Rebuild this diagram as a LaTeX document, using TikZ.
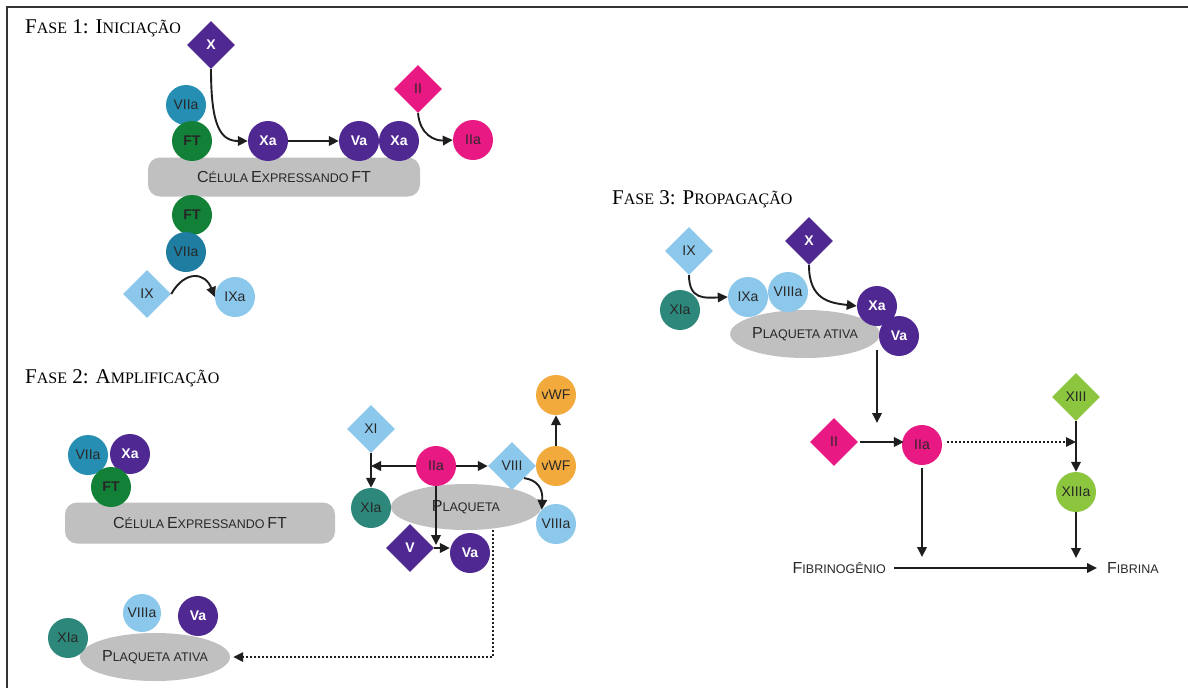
\documentclass[tikz,border=0pt]{standalone}
\usepackage{fontspec}
\setsansfont{Liberation Sans}
\newfontfamily\serifT{Liberation Serif}
\usetikzlibrary{shapes.geometric,arrows.meta}
\definecolor{cpurple}{RGB}{80,40,145}
\definecolor{cpink}{RGB}{232,25,130}
\definecolor{cteal}{RGB}{38,142,178}
\definecolor{ctealdk}{RGB}{30,125,160}
\definecolor{cgreen}{RGB}{18,128,55}
\definecolor{clblue}{RGB}{140,200,235}
\definecolor{cxia}{RGB}{45,135,122}
\definecolor{corange}{RGB}{242,170,60}
\definecolor{clgreen}{RGB}{140,198,63}
\definecolor{cgray}{RGB}{192,192,192}
\definecolor{cline}{RGB}{30,30,30}
\definecolor{ctxt}{RGB}{40,40,40}
\newcommand\tsc[2]{#1{\fontsize{16}{16}\selectfont #2}}
\newcommand\ssc[2]{{\fontsize{16}{16}\selectfont #1}{\fontsize{12.5}{12.5}\selectfont #2}}
\tikzset{
  fnt/.style={font=\sffamily\fontsize{14}{14}\selectfont},
  fntb/.style={font=\sffamily\bfseries\fontsize{14}{14}\selectfont},
  circ/.style={circle, minimum size=40pt, inner sep=0pt, text=ctxt, fnt},
  dia/.style={diamond, minimum width=48pt, minimum height=48pt, inner sep=0pt, shape aspect=1, text=ctxt, fnt},
  wtxt/.style={text=white, fntb},
  ftxt/.style={text=black!85, fntb},
  cell/.style={rounded corners=12pt, fill=cgray, inner sep=0pt, text=ctxt, font=\sffamily},
  plaq/.style={ellipse, fill=cgray, inner sep=0pt, text=ctxt, font=\sffamily},
  title/.style={anchor=base west, inner sep=0pt, font=\serifT\fontsize{21}{21}\selectfont},
  lbl/.style={inner sep=0pt, text=ctxt, font=\sffamily},
  arr/.style={draw=cline, line width=1.9pt, -{Triangle[length=10pt,width=9.5pt]}},
  dots/.style={arr, line width=1.6pt, dash pattern=on 2.2pt off 1.8pt},
}
\begin{document}
\begin{tikzpicture}[x=1pt,y=-1pt]
\useasboundingbox (0,0) rectangle (1188,688);
\fill[white] (0,0) rectangle (1188,688);
\draw[line width=1.5pt, black!80] (1188,7) -- (7,7) -- (7,688);

% ---------------- Phase 1 ----------------
\node[title] (t1) at (25,33) {\tsc{F}{ASE} 1: \tsc{I}{NICIAÇÃO}};
\node[cell, minimum width=272pt, minimum height=39pt] (cell1) at (284,177) {\ssc{C}{ÉLULA} \ssc{E}{XPRESSANDO} \ssc{FT}{}};
\node[dia, fill=cpurple, wtxt] (p1x) at (211,45) {X};
\node[circ, fill=cteal] (p1viia) at (186,105) {VIIa};
\node[circ, fill=cgreen, ftxt] (p1ft) at (192,141) {FT};
\node[circ, fill=cpurple, wtxt] (p1xa) at (268,141) {Xa};
\node[circ, fill=cpurple, wtxt] (p1va) at (359,141) {Va};
\node[circ, fill=cpurple, wtxt] (p1xa2) at (399,141) {Xa};
\node[dia, fill=cpink] (p1ii) at (418,89) {II};
\node[circ, fill=cpink] (p1iia) at (473,140) {IIa};
\node[circ, fill=cgreen, ftxt] (p1ft2) at (192,215) {FT};
\node[circ, fill=ctealdk] (p1viia2) at (186,252) {VIIa};
\node[dia, fill=clblue] (p1ix) at (147,294) {IX};
\node[circ, fill=clblue] (p1ixa) at (235,297) {IXa};

\draw[arr] (p1x.south) .. controls (211,125) and (220,141) .. (p1xa.west);
\draw[arr] (p1xa.east) -- (p1va.west);
\draw[arr] (p1ii.south) .. controls (420,135) and (435,141) .. (p1iia.west);
\draw[arr] (p1ix.east) .. controls (185,270) and (205,272) .. (p1ixa.west);

% ---------------- Phase 2 ----------------
\node[title] (t2) at (25,383) {\tsc{F}{ASE} 2: \tsc{A}{MPLIFICAÇÃO}};
\node[cell, minimum width=270pt, minimum height=41pt] (cell2) at (200,523) {\ssc{C}{ÉLULA} \ssc{E}{XPRESSANDO} \ssc{FT}{}};
\node[circ, fill=cteal] (p2viia) at (88,455) {VIIa};
\node[circ, fill=cpurple, wtxt] (p2xa) at (130,454) {Xa};
\node[circ, fill=cgreen, ftxt] (p2ft) at (111,487) {FT};

\node[plaq, minimum width=150pt, minimum height=46pt] (plaq) at (466,507) {\ssc{P}{LAQUETA}};
\node[dia, fill=clblue] (p2xi) at (371,429) {XI};
\node[circ, fill=cxia] (p2xia) at (371,508) {XIa};
\node[circ, fill=cpink] (p2iia) at (436,466) {IIa};
\node[dia, fill=clblue] (p2viii) at (512,466) {VIII};
\node[circ, fill=corange] (p2vwf) at (556,466) {vWF};
\node[circ, fill=corange] (p2vwf2) at (556,395) {vWF};
\node[circ, fill=clblue] (p2viiia) at (556,524) {VIIIa};
\node[dia, fill=cpurple, wtxt] (p2v) at (410,548) {V};
\node[circ, fill=cpurple, wtxt] (p2va) at (470,553) {Va};
\coordinate (p2j) at (371,466);
\coordinate (p2tip) at (436,545);
\coordinate (p2d) at (493,530);
\coordinate (p2c) at (493,657);

\draw[arr] (p2xi.south) -- (p2xia.north);
\draw[arr] (p2iia.west) -- (p2j);
\draw[arr] (p2iia.east) -- (p2viii.west);
\draw[arr] (p2vwf.north) -- (p2vwf2.south);
\draw[arr] (p2viii.south east) .. controls (537,480) and (543,488) .. (p2viiia.north west);
\draw[arr] (p2iia.south) -- (p2tip);
\draw[arr] (p2v.east) -- (p2v.east -| p2va.west);

\node[plaq, minimum width=150pt, minimum height=48pt] (plaqa) at (155,657) {\ssc{P}{LAQUETA ATIVA}};
\node[circ, fill=cxia] (p2xia2) at (68,638) {XIa};
\node[circ, fill=clblue, minimum size=38pt] (p2viiia2) at (142,613) {VIIIa};
\node[circ, fill=cpurple, wtxt] (p2va2) at (198,616) {Va};
\draw[dots] (p2d) -- (p2c) -- ([xshift=3pt]plaqa.east);

% ---------------- Phase 3 ----------------
\node[title] (t3) at (612,204) {\tsc{F}{ASE} 3: \tsc{P}{ROPAGAÇÃO}};
\node[plaq, minimum width=146pt, minimum height=48pt] (plaq3) at (805,334) {\ssc{P}{LAQUETA ATIVA}};
\node[dia, fill=clblue] (p3ix) at (689,251) {IX};
\node[dia, fill=cpurple, wtxt] (p3x) at (809,241) {X};
\node[circ, fill=cxia] (p3xia) at (680,310) {XIa};
\node[circ, fill=clblue] (p3ixa) at (748,297) {IXa};
\node[circ, fill=clblue] (p3viiia) at (788,292) {VIIIa};
\node[circ, fill=cpurple, wtxt] (p3xa) at (877,306) {Xa};
\node[circ, fill=cpurple, wtxt] (p3va) at (899,336) {Va};
\draw[arr] (p3ix.south) .. controls (689,300) and (705,298) .. (p3ixa.west);
\draw[arr] (p3x.south) .. controls (809,300) and (830,303) .. (p3xa.west);

\node[dia, fill=cpink] (p3ii) at (834,442) {II};
\node[circ, fill=cpink] (p3iia) at (922,445) {IIa};
\node[dia, fill=clgreen] (p3xiii) at (1076,397) {XIII};
\node[circ, fill=clgreen] (p3xiiia) at (1076,492) {XIIIa};
\node[lbl, anchor=east] (fbg) at (886,568) {\ssc{F}{IBRINOGÊNIO}};
\node[lbl, anchor=west] (fbn) at (1107,568) {\ssc{F}{IBRINA}};
\coordinate (p3s) at (877,350);
\coordinate (p3t) at (877,423);
\coordinate (p3a) at (922,557);
\coordinate (p3b) at (1076,558);

\draw[arr] (p3s) -- (p3t);
\draw[arr] ([xshift=2pt]p3ii.east) -- ([xshift=2pt]p3ii.east -| p3iia.west);
\draw[dots] ([xshift=5pt]p3ii.east -| p3iia.east) -- (p3ii.east -| p3xiii.south);
\draw[arr] (p3xiii.south) -- (p3xiiia.north);
\draw[arr] (p3xiiia.south) -- (p3b);
\draw[arr] ([yshift=-3pt]p3iia.south) -- (p3a);
\draw[arr] ([xshift=8pt]fbg.east) -- ([xshift=-10pt]fbn.west);
\end{tikzpicture}
\end{document}
